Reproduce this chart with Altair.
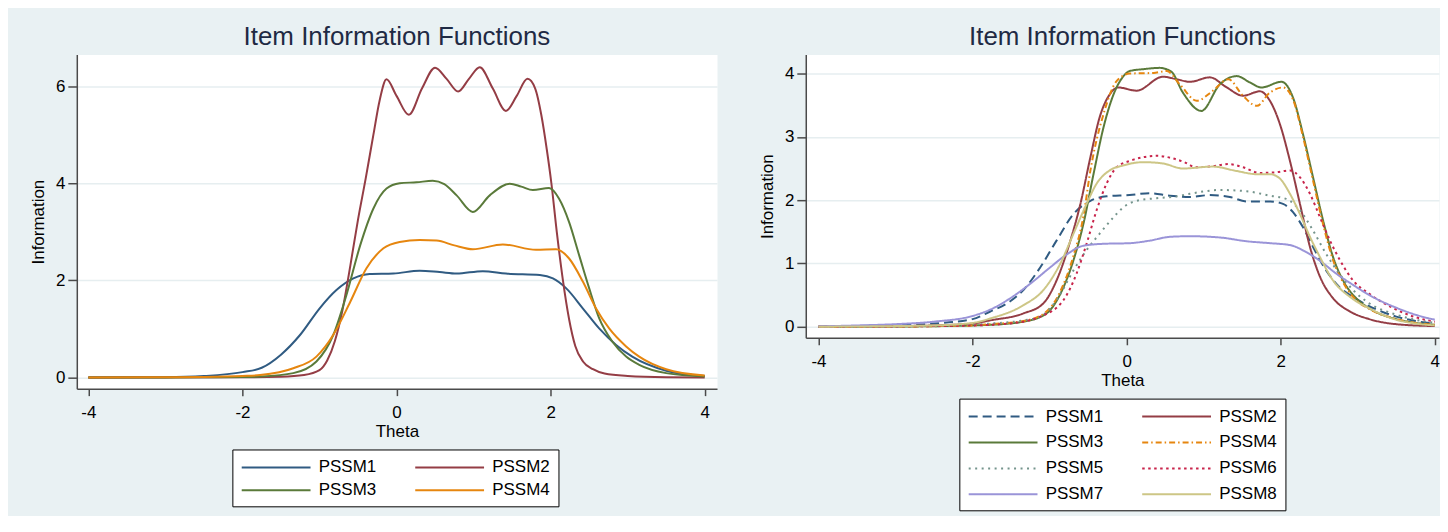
import altair as alt
import pandas as pd

FONT = "Liberation Sans, Arial, Helvetica, sans-serif"
TITLE = "Item Information Functions"

# ---------------- Left panel data (theta, information) ----------------
L1_theta = [-4, -3, -2.5, -2, -1.75, -1.5, -1.25, -1.0, -0.78, -0.56, -0.35, -0.04, 0.3, 0.56, 0.78, 1.12, 1.42, 1.86, 2.03, 2.2, 2.42, 2.63, 2.85, 3.06, 3.5, 4]
L1_info = [0.0, 0.005, 0.03, 0.11, 0.2, 0.47, 0.88, 1.42, 1.8, 2.04, 2.13, 2.14, 2.2, 2.17, 2.14, 2.19, 2.14, 2.11, 2.04, 1.84, 1.42, 1.01, 0.67, 0.43, 0.14, 0.03]

L2_theta = [-4, -2, -1.5, -1.2, -1.0, -0.9, -0.8, -0.7, -0.6, -0.5, -0.4, -0.3, -0.22, -0.13, 0.0, 0.16, 0.33, 0.5, 0.65, 0.8, 0.94, 1.08, 1.25, 1.42, 1.56, 1.7, 1.8, 1.88, 1.95, 2.01, 2.08, 2.16, 2.24, 2.32, 2.42, 2.55, 2.7, 3.0, 3.5, 4]
L2_info = [0.0, 0.003, 0.015, 0.05, 0.15, 0.35, 0.75, 1.4, 2.3, 3.25, 4.1, 5.0, 5.7, 6.14, 5.8, 5.41, 5.95, 6.38, 6.15, 5.89, 6.15, 6.39, 5.95, 5.49, 5.8, 6.15, 5.95, 5.4, 4.7, 4.0, 3.0, 2.0, 1.2, 0.65, 0.33, 0.17, 0.08, 0.03, 0.005, 0.0]

L3_theta = [-4, -3, -2.5, -2, -1.77, -1.34, -1.04, -0.82, -0.65, -0.47, -0.3, -0.13, 0.04, 0.26, 0.47, 0.62, 0.78, 0.99, 1.21, 1.47, 1.62, 1.77, 1.98, 2.11, 2.24, 2.37, 2.5, 2.63, 2.8, 2.98, 3.15, 3.5, 4]
L3_info = [0.0, 0.002, 0.005, 0.01, 0.02, 0.09, 0.33, 0.88, 1.7, 2.73, 3.48, 3.89, 4.0, 4.02, 4.05, 3.98, 3.75, 3.41, 3.75, 3.99, 3.93, 3.86, 3.9, 3.68, 3.2, 2.52, 1.84, 1.22, 0.74, 0.43, 0.26, 0.09, 0.02]

L4_theta = [-4, -3, -2.5, -2, -1.77, -1.34, -1.04, -0.82, -0.6, -0.39, -0.17, 0.04, 0.3, 0.52, 0.75, 0.99, 1.38, 1.81, 2.07, 2.24, 2.42, 2.59, 2.76, 2.98, 3.15, 3.5, 4]
L4_info = [0.0, 0.005, 0.01, 0.03, 0.05, 0.19, 0.43, 0.88, 1.56, 2.25, 2.66, 2.79, 2.83, 2.82, 2.72, 2.64, 2.74, 2.63, 2.64, 2.45, 1.97, 1.42, 1.01, 0.64, 0.43, 0.17, 0.04]

# ---------------- Right panel data ----------------
R1_theta = [-4, -3.5, -3, -2.5, -2, -1.77, -1.55, -1.34, -1.12, -0.91, -0.69, -0.47, -0.26, 0.04, 0.3, 0.56, 0.82, 1.08, 1.34, 1.56, 1.86, 2.03, 2.16, 2.29, 2.42, 2.59, 2.76, 2.98, 3.25, 3.5, 3.75, 4]
R1_info = [0.0, 0.01, 0.025, 0.05, 0.12, 0.24, 0.37, 0.58, 0.94, 1.36, 1.78, 1.99, 2.06, 2.08, 2.11, 2.07, 2.05, 2.08, 2.05, 1.98, 1.98, 1.94, 1.81, 1.57, 1.26, 0.89, 0.63, 0.44, 0.27, 0.16, 0.09, 0.05]

R2_theta = [-4, -3, -2.5, -2, -1.77, -1.34, -1.08, -0.91, -0.73, -0.6, -0.47, -0.35, -0.22, -0.11, 0.13, 0.47, 0.65, 0.82, 1.08, 1.3, 1.51, 1.73, 1.86, 1.99, 2.12, 2.25, 2.38, 2.51, 2.68, 2.9, 3.15, 3.5, 4]
R2_info = [0.0, 0.01, 0.02, 0.05, 0.1, 0.21, 0.37, 0.73, 1.36, 1.94, 2.68, 3.31, 3.67, 3.78, 3.73, 3.95, 3.91, 3.87, 3.94, 3.78, 3.65, 3.72, 3.57, 3.2, 2.62, 1.94, 1.26, 0.79, 0.45, 0.24, 0.12, 0.04, 0.01]

R3_theta = [-4, -3, -2.5, -2, -1.77, -1.34, -1.04, -0.86, -0.69, -0.56, -0.43, -0.3, -0.17, -0.04, 0.04, 0.22, 0.43, 0.58, 0.73, 0.97, 1.21, 1.43, 1.6, 1.75, 2.01, 2.16, 2.29, 2.42, 2.55, 2.68, 2.81, 2.98, 3.15, 3.5, 3.75, 4]
R3_info = [0.0, 0.003, 0.008, 0.02, 0.03, 0.08, 0.21, 0.52, 1.05, 1.63, 2.41, 3.15, 3.67, 3.96, 4.04, 4.07, 4.09, 4.03, 3.7, 3.41, 3.83, 3.96, 3.86, 3.78, 3.87, 3.62, 3.04, 2.36, 1.68, 1.1, 0.73, 0.45, 0.29, 0.12, 0.06, 0.03]

R4_theta = [-4, -3, -2.5, -2, -1.77, -1.34, -1.04, -0.86, -0.69, -0.56, -0.47, -0.3, -0.13, 0.04, 0.35, 0.52, 0.69, 0.91, 1.12, 1.32, 1.51, 1.69, 1.86, 2.03, 2.16, 2.29, 2.42, 2.55, 2.68, 2.81, 2.98, 3.15, 3.5, 3.75, 4]
R4_info = [0.0, 0.003, 0.008, 0.02, 0.04, 0.09, 0.24, 0.56, 1.12, 1.75, 2.47, 3.36, 3.88, 4.0, 4.01, 4.04, 3.83, 3.57, 3.73, 3.91, 3.65, 3.49, 3.7, 3.78, 3.59, 3.0, 2.31, 1.62, 1.05, 0.7, 0.42, 0.28, 0.12, 0.06, 0.03]

R5_theta = [-4, -3, -2.5, -2, -1.77, -1.34, -1.12, -0.91, -0.69, -0.52, -0.35, -0.17, -0.04, 0.13, 0.39, 0.65, 0.82, 1.21, 1.56, 1.86, 2.07, 2.25, 2.42, 2.59, 2.76, 2.94, 3.15, 3.5, 3.75, 4]
R5_info = [0.0, 0.005, 0.015, 0.03, 0.05, 0.1, 0.16, 0.42, 0.89, 1.21, 1.47, 1.73, 1.89, 1.99, 2.03, 2.06, 2.1, 2.16, 2.14, 2.07, 2.02, 1.84, 1.52, 1.15, 0.84, 0.58, 0.37, 0.19, 0.11, 0.06]

R6_theta = [-4, -3, -2.5, -2, -1.77, -1.34, -1.12, -0.82, -0.65, -0.52, -0.39, -0.26, -0.13, 0.04, 0.22, 0.39, 0.6, 0.75, 0.9, 1.08, 1.32, 1.51, 1.73, 1.94, 2.12, 2.25, 2.38, 2.51, 2.64, 2.77, 2.94, 3.15, 3.5, 3.75, 4]
R6_info = [0.0, 0.005, 0.01, 0.02, 0.03, 0.08, 0.16, 0.42, 0.84, 1.31, 1.84, 2.26, 2.52, 2.62, 2.68, 2.7, 2.66, 2.6, 2.52, 2.53, 2.57, 2.52, 2.43, 2.44, 2.47, 2.36, 2.1, 1.73, 1.36, 1.05, 0.73, 0.52, 0.27, 0.15, 0.08]

R7_theta = [-4, -3.5, -3, -2.5, -2, -1.77, -1.51, -1.25, -0.99, -0.78, -0.56, -0.3, 0.04, 0.3, 0.56, 0.82, 1.21, 1.56, 1.86, 2.12, 2.33, 2.5, 2.72, 2.94, 3.15, 3.5, 3.75, 4]
R7_info = [0.005, 0.02, 0.04, 0.08, 0.17, 0.27, 0.45, 0.68, 0.94, 1.14, 1.28, 1.31, 1.32, 1.36, 1.42, 1.43, 1.41, 1.35, 1.32, 1.29, 1.18, 1.05, 0.84, 0.66, 0.5, 0.3, 0.19, 0.11]

R8_theta = [-4, -3, -2.5, -2, -1.77, -1.34, -1.08, -0.86, -0.69, -0.52, -0.39, -0.22, -0.04, 0.22, 0.47, 0.73, 1.12, 1.43, 1.69, 1.86, 1.99, 2.12, 2.25, 2.38, 2.51, 2.68, 2.9, 3.15, 3.5, 3.75, 4]
R8_info = [0.0, 0.01, 0.02, 0.06, 0.13, 0.34, 0.58, 1.0, 1.47, 1.94, 2.26, 2.47, 2.55, 2.6, 2.58, 2.5, 2.53, 2.46, 2.41, 2.41, 2.34, 2.1, 1.78, 1.42, 1.1, 0.73, 0.47, 0.29, 0.11, 0.05, 0.02]

ITEMS_LEFT = ["PSSM1", "PSSM2", "PSSM3", "PSSM4"]
ITEMS_RIGHT = ["PSSM1", "PSSM2", "PSSM3", "PSSM4", "PSSM5", "PSSM6", "PSSM7", "PSSM8"]

COLORS = ["#305b82", "#943d45", "#5a7a3a", "#e6860f", "#74948c", "#c8244b", "#9a94d8", "#cdc686"]
DASHES_RIGHT = [[9, 5], [1, 0], [1, 0], [6, 3, 1.5, 3], [2, 4.5], [2.5, 3.5], [1, 0], [1, 0]]

left_series = {"PSSM1": (L1_theta, L1_info), "PSSM2": (L2_theta, L2_info),
               "PSSM3": (L3_theta, L3_info), "PSSM4": (L4_theta, L4_info)}
right_series = {"PSSM1": (R1_theta, R1_info), "PSSM2": (R2_theta, R2_info),
                "PSSM3": (R3_theta, R3_info), "PSSM4": (R4_theta, R4_info),
                "PSSM5": (R5_theta, R5_info), "PSSM6": (R6_theta, R6_info),
                "PSSM7": (R7_theta, R7_info), "PSSM8": (R8_theta, R8_info)}


def to_frame(series):
    rows = []
    for name, (th, vals) in series.items():
        for t, v in zip(th, vals):
            rows.append({"theta": t, "info": v, "item": name})
    return pd.DataFrame(rows)


df_left = to_frame(left_series)
df_right = to_frame(right_series)

title_params = dict(text=TITLE, fontSize=26, font=FONT, fontWeight="normal",
                    color="#1f2a44", anchor="middle", frame="group", offset=5)

# legend line sample: 69 px long horizontal stroke drawn as a custom path
SYMBOL_LEN = 69.0
SYMBOL_PATH = "M-4,0L4,0"
SYM_UNIT = SYMBOL_LEN / 4.0
SYMBOL_SIZE = SYM_UNIT ** 2


def legend(x, y, row_pad):
    return alt.Legend(title=None, orient="none", legendX=x, legendY=y, columns=2,
                      direction="horizontal",
                      strokeColor="black", fillColor="white", padding=8,
                      symbolType=SYMBOL_PATH, symbolSize=SYMBOL_SIZE, symbolStrokeWidth=2,
                      symbolOffset=SYMBOL_LEN / 2 - SYM_UNIT / 2,
                      labelFont=FONT, labelFontSize=17, labelColor="black",
                      labelOffset=SYMBOL_LEN - SYM_UNIT + 12 - 31, columnPadding=34,
                      rowPadding=row_pad)


LABEL_EXPR = "toString(datum.value)"

x_axis = dict(values=[-4, -2, 0, 2, 4], title="Theta", grid=False, tickSize=7,
              labelPadding=9, titlePadding=3, labelExpr=LABEL_EXPR)

left = alt.Chart(df_left).mark_line(strokeWidth=2, interpolate="monotone").encode(
    x=alt.X("theta:Q", scale=alt.Scale(domain=[-4.15, 4.16], nice=False, zero=False),
            axis=alt.Axis(**x_axis)),
    y=alt.Y("info:Q", scale=alt.Scale(domain=[-0.23, 6.65], nice=False, zero=False),
            axis=alt.Axis(values=[0, 2, 4, 6], title="Information", grid=True,
                          tickSize=9, labelPadding=3, titlePadding=8, labelExpr=LABEL_EXPR)),
    color=alt.Color("item:N", scale=alt.Scale(domain=ITEMS_LEFT, range=COLORS[:4]),
                    legend=legend(156, 396, 5)),
).properties(width=642, height=335, title=alt.TitleParams(**title_params))

right_legend = legend(154, 345, 8)
right = alt.Chart(df_right).mark_line(strokeWidth=2, interpolate="monotone").encode(
    x=alt.X("theta:Q", scale=alt.Scale(domain=[-4.165, 4.055], nice=False, zero=False),
            axis=alt.Axis(**x_axis)),
    y=alt.Y("info:Q", scale=alt.Scale(domain=[-0.175, 4.3], nice=False, zero=False),
            axis=alt.Axis(values=[0, 1, 2, 3, 4], title="Information", grid=True,
                          tickSize=9, labelPadding=3, titlePadding=8, labelExpr=LABEL_EXPR)),
    color=alt.Color("item:N", scale=alt.Scale(domain=ITEMS_RIGHT, range=COLORS),
                    legend=right_legend),
    strokeDash=alt.StrokeDash("item:N", scale=alt.Scale(domain=ITEMS_RIGHT, range=DASHES_RIGHT),
                              legend=right_legend),
).properties(width=635, height=284, title=alt.TitleParams(**title_params))

chart = alt.hconcat(left, right, spacing=40).resolve_scale(
    color="independent", strokeDash="independent"
).resolve_legend(
    color="independent", strokeDash="independent"
).properties(
    padding={"left": 21, "top": 14, "right": 0, "bottom": 4}
).configure(
    background="#e9f1f3"
).configure_view(
    stroke="transparent", fill="white"
).configure_axis(
    domainColor="#4a4a4a", domainWidth=1.5, tickColor="#4a4a4a", tickWidth=1.5,
    labelFont=FONT, labelFontSize=17, labelColor="black",
    titleFont=FONT, titleFontSize=17, titleFontWeight="normal", titleColor="black",
    gridColor="#e6eef0", gridWidth=1.5
)

chart.save("out.html", embed_options={"renderer": "svg", "actions": False})
